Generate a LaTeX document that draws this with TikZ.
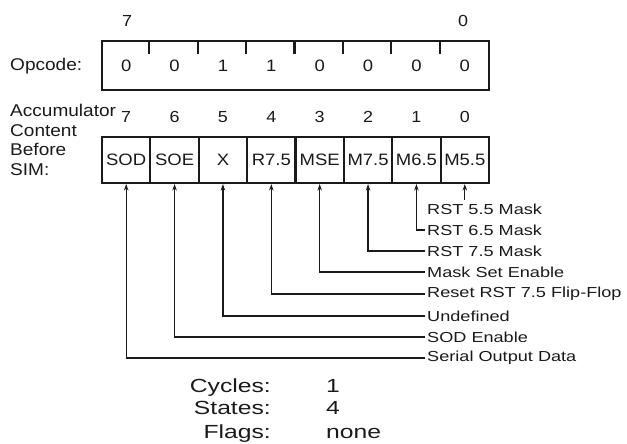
\documentclass[tikz,border=0pt]{standalone}
\usepackage{fontspec}
\setmainfont{Liberation Sans}
\newfontfamily\boxface[FakeStretch=1.12]{Liberation Sans}
\newfontfamily\tagface[FakeStretch=1.25]{Liberation Sans}
\newfontfamily\sumface[FakeStretch=1.3]{Liberation Sans}
\usepackage{tikz}
\usetikzlibrary{arrows.meta,positioning,calc}
\definecolor{Ink}{HTML}{1A1A1A}
\tikzset{
  sidelabel/.style={inner sep=0pt, align=left, text=Ink, font=\boxface\fontsize{17}{19.7}\selectfont},
  regbox/.style={draw=Ink, line width=2.1pt, inner sep=0pt},
  fieldcell/.style={draw=Ink, line width=2.1pt, minimum width=48.375pt, minimum height=46pt, inner sep=0pt, text=Ink, font=\boxface\fontsize{16.5}{18}\selectfont},
  bitnum/.style={inner sep=0pt, text=Ink, font=\boxface\fontsize{16}{18}\selectfont},
  tagtext/.style={anchor=west, inner sep=2pt, text=Ink, font=\tagface\fontsize{14.5}{16}\selectfont},
  sumtext/.style={inner sep=0pt, text=Ink, font=\sumface\fontsize{19}{22}\selectfont},
  tagarrow/.style={-{Stealth[length=6.5pt,width=4.5pt]}, draw=Ink, line width=1.2pt},
  opcodetick/.style={draw=Ink, line width=2.1pt}
}
\begin{document}
\begin{tikzpicture}[x=1pt, y=-1pt]
  \useasboundingbox (0,0) rectangle (627,444);
  % opcode register
  \node[regbox, minimum width=387pt, minimum height=49pt] (opcode) at (295.5,65.5) {};
  \node[sidelabel, anchor=west] (opclabel) at (10,66) {Opcode:};
  \node[bitnum] (opmsb) at (127,21) {7};
  \node[bitnum] (oplsb) at (463,21) {0};
  \foreach \v [count=\i from 0] in {0,0,1,1,0,0,0,0}
    \node[bitnum, font=\boxface\fontsize{16.5}{18}\selectfont] (op\i) at ({102+48.375*(\i+0.5)},66) {\v};
  \foreach \i in {1,...,7}
    \draw[opcodetick] ($(opcode.north west)+(48.375*\i,0)$) -- ++(0,14);

  % accumulator before SIM
  \node[sidelabel, anchor=north west] (acclabel) at (10,104) {Accumulator\\Content\\Before\\SIM:};
  \foreach \f [count=\i from 0] in {SOD,SOE,X,R7.5,MSE,M7.5,M6.5,M5.5} {
    \pgfmathtruncatemacro\b{7-\i}
    \node[fieldcell] (acc\b) at ({102+48.375*(\i+0.5)},160) {\f};
    \node[bitnum] (num\b) at ({102+48.375*(\i+0.5)},117) {\b};
  }

  % bit meanings
  \foreach \t/\y [count=\b from 0] in {RST 5.5 Mask/209, RST 6.5 Mask/230, RST 7.5 Mask/251, Mask Set Enable/272, Reset RST 7.5 Flip-Flop/294, Undefined/316, SOD Enable/337, Serial Output Data/358}
    \node[tagtext] (tag\b) at (425,\y) {\t};
  \coordinate (tag0top) at (acc0.south |- 0,200);
  \draw[tagarrow] (tag0top) -- (acc0.south);
  \foreach \b in {1,...,7}
    \draw[tagarrow] (tag\b.west) -| (acc\b.south);

  % timing
  \node[sumtext, anchor=base east] (cyclab) at (271,392) {Cycles:};
  \node[sumtext, anchor=base west] (cycval) at (326,392) {1};
  \node[sumtext, anchor=base east] (stlab) at (271,414) {States:};
  \node[sumtext, anchor=base west] (stval) at (326,414) {4};
  \node[sumtext, anchor=base east] (fllab) at (271,438) {Flags:};
  \node[sumtext, anchor=base west] (flval) at (326,438) {none};
\end{tikzpicture}
\end{document}
